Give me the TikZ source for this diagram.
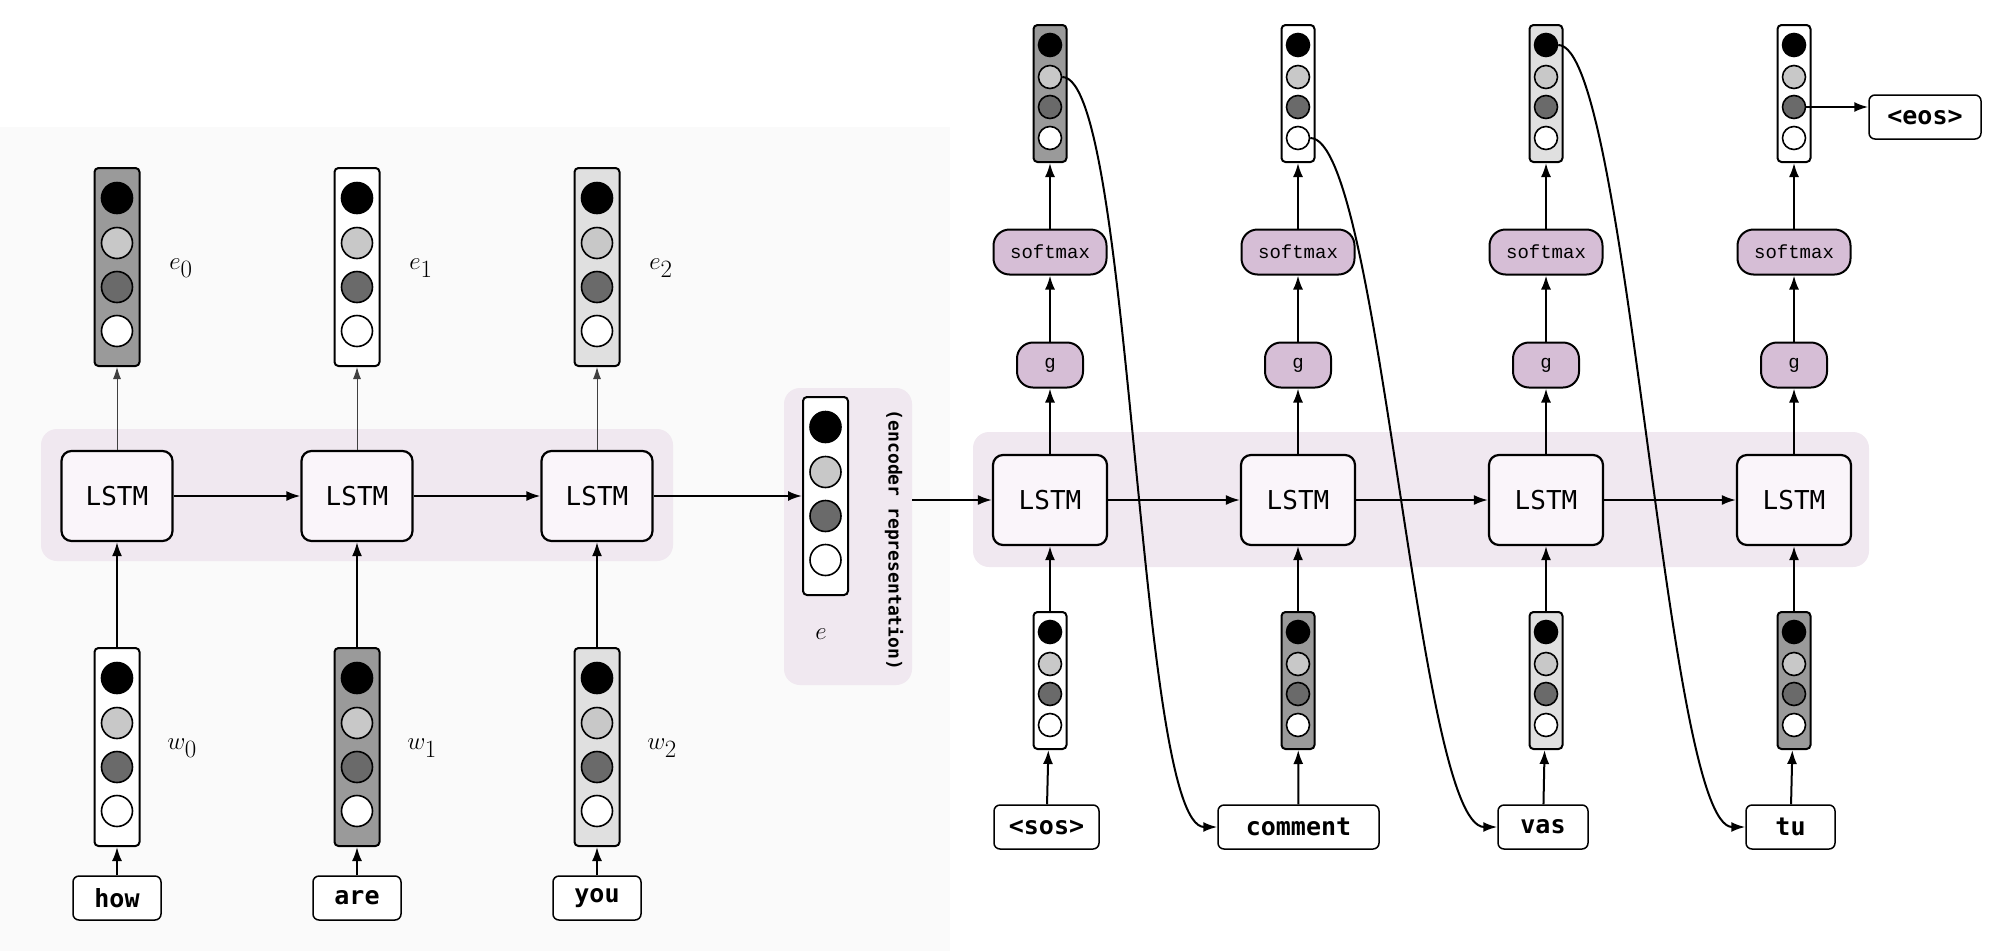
\documentclass[tikz,border=0pt]{standalone}
\usepackage{fontspec}
\setmonofont{DejaVu Sans Mono}
\newfontfamily\cour{Liberation Mono}
\usetikzlibrary{arrows.meta}
\definecolor{cl}{HTML}{C8C8C8}
\definecolor{cd}{HTML}{6A6A6A}
\definecolor{vg}{HTML}{9A9A9A}
\definecolor{vl}{HTML}{E0E0E0}
\definecolor{purp}{HTML}{D6BED6}
\definecolor{band}{HTML}{F0E8F0}
\definecolor{lstmf}{HTML}{FAF5FA}
\tikzset{
 vbox/.style={draw,line width=2pt,rounded corners=4pt,inner sep=0},
 lstm/.style={draw,line width=2.2pt,rounded corners=10pt,fill=lstmf,minimum height=90pt,font=\ttfamily\fontsize{26}{26}\selectfont,inner sep=0},
 word/.style={draw,line width=1.5pt,rounded corners=6pt,fill=white,minimum height=44pt,font=\ttfamily\bfseries\fontsize{25}{25}\selectfont,inner sep=0},
 fun/.style={draw,line width=2pt,rounded corners=16pt,fill=purp,minimum height=45pt,font=\cour\fontsize{19}{19}\selectfont,inner sep=0},
 arr/.style={line width=2pt,-{Latex[length=14pt,width=10pt]}},
 thin/.style={line width=1pt,draw=black!75,-{Latex[length=12pt,width=8pt]}},
 lab/.style={font=\fontsize{34}{34}\selectfont},
}
\newcommand{\vecgen}[8]{%
 \node[vbox,fill=#6,minimum width=#4pt,minimum height=#5pt] (#1) at (#2,#3+#5/2) {};
 \foreach \o/\c [count=\i] in {#8}
   \node[circle,draw,line width=1.6pt,fill=\c,minimum size=#7pt,inner sep=0] (#1-\i) at (#2,#3+\o) {};
}
\newcommand{\vecL}[4]{\vecgen{#1}{#2}{#3}{45}{198}{#4}{31}{30/black,75/cl,119/cd,163/white}}
\newcommand{\vecR}[4]{\vecgen{#1}{#2}{#3}{33}{137}{#4}{23}{20/black,52/cl,82/cd,113/white}}
\begin{document}
\begin{tikzpicture}[x=1pt,y=-1pt]
\useasboundingbox (0,0) rectangle (2000,951);
\fill[black!2] (0,127) rectangle (950,951);
% encoder band
\fill[band,rounded corners=16pt] (41,429) rectangle (673,561);
\node[fill=band,rounded corners=16pt,minimum width=128pt,minimum height=297pt,inner sep=0] (er) at (848,536.5) {};
% encoder
\foreach \x/\n/\ef/\wf/\w in {117/0/vg/white/how,357/1/white/vg/are,597/2/vl/vl/you}{
  \node[lstm,minimum width=111pt] (l\n) at (\x,496) {LSTM};
  \vecL{e\n}{\x}{168}{\ef}
  \vecL{w\n}{\x}{648}{\wf}
  \node[word,minimum width=88pt] (in\n) at (\x,898) {\w};
  \node[lab] at (\x+64,268) {$e_\n$};
  \node[lab] at (\x+65,748) {$w_\n$};
  \draw[thin] (l\n) -- (e\n);
  \draw[arr] (w\n) -- (l\n);
  \draw[arr] (in\n) -- (w\n);
}
\draw[arr] (l0) -- (l1);
\draw[arr] (l1) -- (l2);
\vecL{enc}{825.5}{397}{white}
\node[lab] at (821,634) {$e$};
\node[rotate=-90,font=\ttfamily\bfseries\fontsize{18}{18}\selectfont] at (894,540) {(encoder representation)};
\draw[arr] (l2) -- (enc);
% decoder band
\fill[band,rounded corners=16pt] (973,432) rectangle (1869,567);
\foreach \x/\n/\tf/\ff in {1050/1/vg/white,1298/2/white/vg,1546/3/vl/vl,1794/4/white/vg}{
  \node[lstm,minimum width=114pt] (d\n) at (\x,500) {LSTM};
  \node[fun,minimum width=66pt] (g\n) at (\x,365) {g};
  \node[fun,minimum width=113pt] (s\n) at (\x,252) {softmax};
  \vecR{t\n}{\x}{25}{\tf}
  \vecR{i\n}{\x}{612}{\ff}
  \draw[arr] (d\n) -- (g\n);
  \draw[arr] (g\n) -- (s\n);
  \draw[arr] (s\n) -- (t\n);
  \draw[arr] (i\n) -- (d\n);
}
\draw[arr] (d1) -- (d2);
\draw[arr] (d2) -- (d3);
\draw[arr] (d3) -- (d4);
\draw[arr] (er.east |- d1.west) -- (d1.west);
\node[word,minimum width=105pt] (o1) at (1046.5,827) {<sos>};
\node[word,minimum width=161pt] (o2) at (1298.5,827) {comment};
\node[word,minimum width=90pt] (o3) at (1543,827) {vas};
\node[word,minimum width=89pt] (o4) at (1790.5,827) {tu};
\node[word,minimum width=112pt] (eos) at (1925,117) {<eos>};
\foreach \n in {1,2,3,4} \draw[arr] (o\n) -- (i\n);
\draw[arr] (t1-2.east) .. controls +(70,0) and +(-80,0) .. (o2.west);
\draw[arr] (t2-4.east) .. controls +(70,0) and +(-80,0) .. (o3.west);
\draw[arr] (t3-1.east) .. controls +(70,0) and +(-80,0) .. (o4.west);
\draw[arr] (t4-3.east) -- (eos.west |- t4-3);
\end{tikzpicture}
\end{document}
